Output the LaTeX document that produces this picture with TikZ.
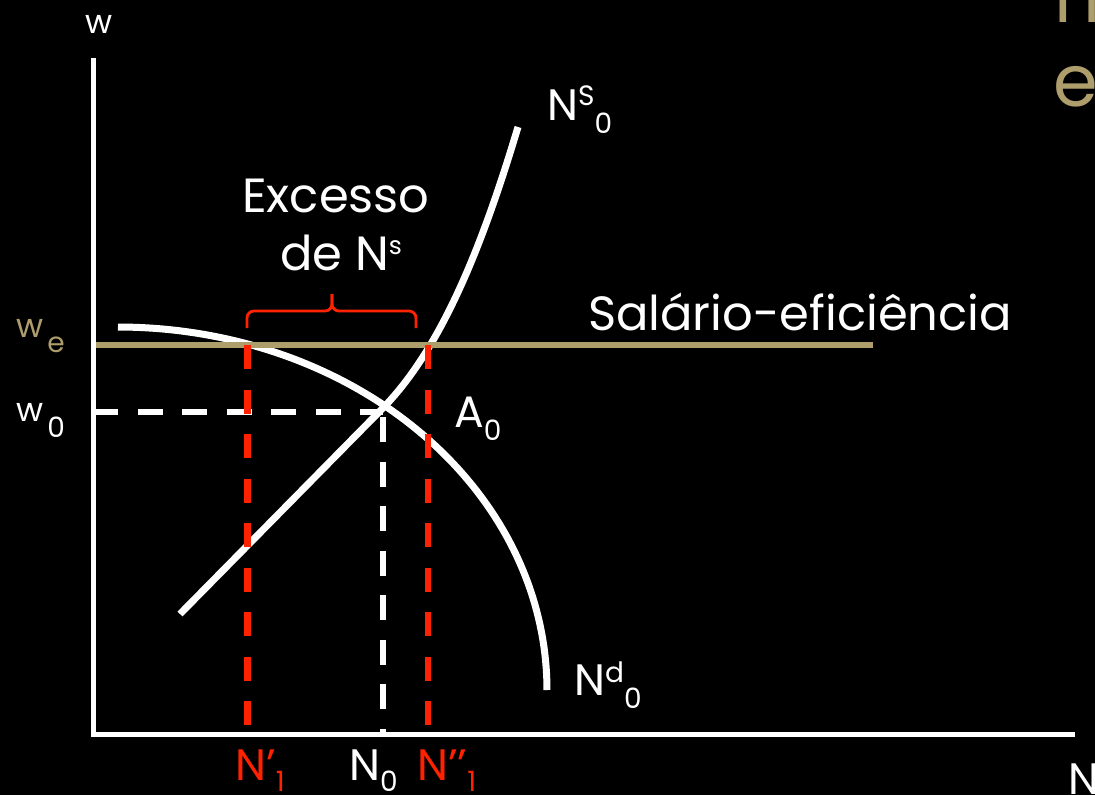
\documentclass[tikz,border=0pt]{standalone}
\usepackage{fontspec}
\setmainfont{Poppins}
\definecolor{wagetan}{HTML}{AE9E6C}
\definecolor{gapred}{HTML}{FF2200}
\newcommand{\upidx}[2][15pt]{\raisebox{#1}{\fontsize{28}{28}\selectfont #2}}
\newcommand{\dnidx}[2][-14pt]{\raisebox{#1}{\fontsize{28}{28}\selectfont #2}}

\begin{document}
\begin{tikzpicture}[x=1pt, y=-1pt,
  axis/.style={white, line width=5.5pt},
  curve/.style={white, line width=7pt},
  effline/.style={wagetan, line width=6.5pt},
  eqdash/.style={white, line width=6.5pt, dash pattern=on 25pt off 19.5pt},
  gapdash/.style={gapred, line width=6.5pt, dash pattern=on 24pt off 20.5pt},
  gapbrace/.style={gapred, line width=2.8pt, rounded corners=7pt},
  lbl/.style={inner sep=0pt, anchor=base west, text=white,
              font=\fontsize{44}{48}\selectfont},
  wlbl/.style={inner sep=0pt, anchor=base west, text=white,
               font=\fontsize{33}{36}\selectfont},
  big/.style={inner sep=0pt, anchor=base, text=white,
              font=\fontsize{48}{52}\selectfont},
]

% Frame and background
\useasboundingbox (0,0) rectangle (1095,795);
\fill[black] (0,0) rectangle (1095,795);

% Key points
\coordinate (origin) at (93.5,734.5);
\coordinate (ytop) at (93.5,58);
\coordinate (xend) at (1075,734.5);
\coordinate (weL) at (96,345);
\coordinate (weR) at (873,345);
\coordinate (w0L) at (93,412);
\coordinate (A0) at (383,412);
\coordinate (A0d) at (383,417);
\coordinate (N0) at (383,732);
\coordinate (N1top) at (247.5,345);
\coordinate (N1) at (247.5,732);
\coordinate (N2top) at (428,345);
\coordinate (N2) at (428,732);
\coordinate (supA) at (180,614);
\coordinate (supB) at (518,127);
\coordinate (bL) at (247,328);
\coordinate (bR) at (416,328);
\coordinate (bmid) at (332,311);
\coordinate (btip) at (332,294);

% Axes
\draw[axis] (ytop) -- (origin) -- (xend);

% Demand N^d_0 (quarter ellipse)
\draw[curve] plot[domain=-90:0, samples=80]
  ({118+429*cos(\x)}, {690+363*sin(\x)});

% Supply N^S_0
\draw[curve] (supA) -- (381,410) .. controls (441,350) and (482,247) .. (supB);

% Efficiency wage
\draw[effline] (weL) -- (weR);

% Equilibrium guides
\draw[eqdash] (w0L) -- (A0);
\draw[eqdash] (A0d) -- (N0);

% Employment at w_e
\draw[gapdash] (N1top) -- (N1);
\draw[gapdash] (N2top) -- (N2);
\draw[gapbrace] (bL) |- (bmid) -- (btip);
\draw[gapbrace] (bR) |- (bmid) -- (btip);

% Axis labels
\node[wlbl] (wlab) at (85,33) {w};
\node[lbl] (Nlab) at (1068,794) {N};
\node[wlbl, text=wagetan] (welab) at (16,337) {w\hspace{4pt}\dnidx[-15pt]{e}};
\node[wlbl] (w0lab) at (16,421) {w\hspace{4pt}\dnidx[-16pt]{0}};

% Employment labels
\node[lbl, text=gapred] (N1lab) at (235,780) {N’\dnidx[-11pt]{1}};
\node[lbl] (N0lab) at (349,780) {N\dnidx[-11pt]{0}};
\node[lbl, text=gapred] (N2lab) at (417,780) {N’’\dnidx[-11pt]{1}};

% Curve labels
\node[lbl] (NSlab) at (547,120) {N\upidx{S}\dnidx[-13pt]{0}};
\node[lbl] (Ndlab) at (574,695) {N\upidx[13pt]{d}\dnidx[-13pt]{0}};
\node[lbl] (A0lab) at (454,427) {A\dnidx[-13pt]{0}};

% Texts
\node[big] (excesso) at (336,212) {Excesso};
\node[big] (deNs) at (341,270) {de N\raisebox{16pt}{\fontsize{25}{25}\selectfont s}};
\node[big] (salario) at (800,330) {Salário-eficiência};

% Title remnants, cut by the frame
\node[inner sep=0pt, anchor=base west, text=wagetan,
      font=\fontsize{72}{72}\selectfont] (titlen) at (1054,23) {n};
\node[inner sep=0pt, anchor=base west, text=wagetan,
      font=\fontsize{72}{72}\selectfont] (titlee) at (1053,106) {e};

\end{tikzpicture}
\end{document}
